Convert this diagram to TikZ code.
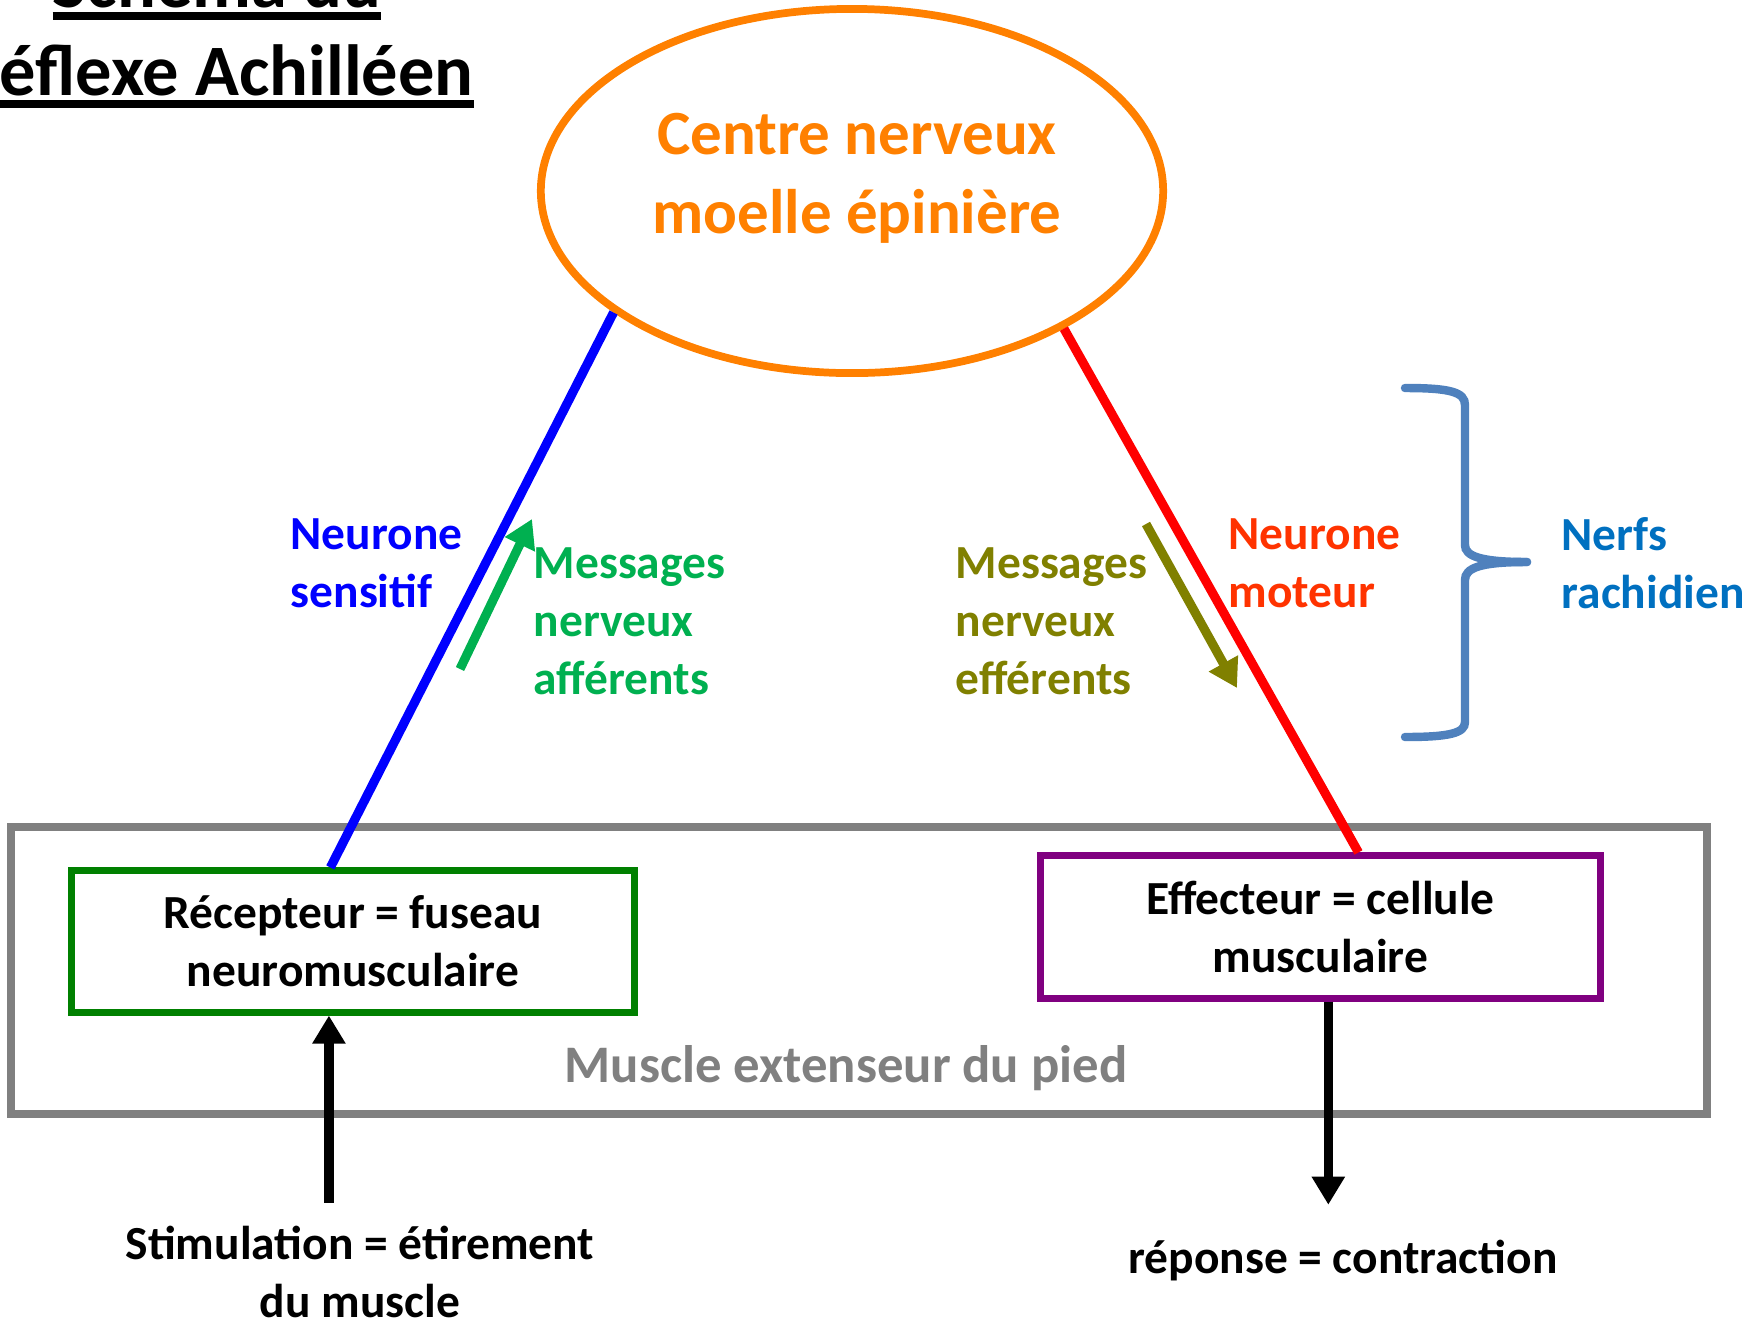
\documentclass[tikz,border=0pt]{standalone}
\usepackage{fontspec}
\setmainfont{Carlito}
\usepackage{tikz}
\usetikzlibrary{positioning}
\usetikzlibrary{shapes.geometric}
\usetikzlibrary{arrows.meta}
\usepackage{xcolor}

\definecolor{cnorange}{HTML}{FF8000}
\definecolor{sensblue}{HTML}{0000FF}
\definecolor{motred}{HTML}{FF0000}
\definecolor{mottxt}{HTML}{FF3300}
\definecolor{affgreen}{HTML}{00B050}
\definecolor{effolive}{HTML}{808000}
\definecolor{recgreen}{HTML}{008000}
\definecolor{effpurple}{HTML}{800080}
\definecolor{musgray}{HTML}{808080}
\definecolor{bracecol}{HTML}{4F81BD}
\definecolor{nerfblue}{HTML}{0070C0}

\newcommand{\ttlul}[1]{\setbox0=\hbox{#1}\rlap{\rule[-3.6pt]{\wd0}{2.2pt}}\box0}

\begin{document}
\begin{tikzpicture}[x=0.01cm, y=-0.01cm,
    txt/.style={inner sep=0pt, align=left, font=\bfseries\fontsize{13.5}{16.5}\selectfont},
    ctxt/.style={txt, align=center},
    boxnode/.style={draw, line width=2pt, rectangle, inner sep=0pt, align=center,
        font=\bfseries\fontsize{13.5}{16.5}\selectfont},
    nerve/.style={line width=2.6pt},
    blkarrow/.style={line width=2.6pt, -{Triangle[length=8pt, width=9pt]}},
    msgarrow/.style={line width=2.6pt, -{Triangle[length=8pt, width=9pt]}}]
    \useasboundingbox (0,0) rectangle (1762,1320);

    % Titre
    \node[anchor=base, font=\bfseries\fontsize{20.6}{25}\selectfont] (ttla) at (217,7) {\ttlul{Schéma du}};
    \node[anchor=base, font=\bfseries\fontsize{20.6}{25}\selectfont] (ttlb) at (217,95) {\ttlul{Réflexe Achilléen}};

    % Centre nerveux
    \node[draw=cnorange, line width=2.2pt, ellipse, minimum width=6.22cm, minimum height=3.64cm,
        inner sep=0pt] (cn) at (852,191) {};
    \node[ctxt, text=cnorange, font=\bfseries\fontsize{17.9}{22.5}\selectfont] (cnlbl) at (857,178)
        {Centre nerveux\\moelle épinière};

    % Muscle
    \draw[musgray, line width=2pt] (11,827) rectangle (1707,1114);
    \node[txt, text=musgray, font=\bfseries\fontsize{15}{18}\selectfont] (muslbl) at (846,1068)
        {Muscle extenseur du pied};

    % Recepteur et effecteur
    \node[boxnode, draw=recgreen, minimum width=5.62cm, minimum height=1.41cm] (rec) at (353,941.5)
        {Récepteur = fuseau\\neuromusculaire};
    \node[boxnode, draw=effpurple, minimum width=5.59cm, minimum height=1.42cm] (eff) at (1320.5,927)
        {Effecteur = cellule\\musculaire};

    % Neurones
    \draw[nerve, sensblue] (cn.207.2) -- (rec.107);
    \draw[nerve, motred] (cn.-33.5) -- (eff.63);
    \node[txt, text=sensblue, anchor=west] (sens) at (290,563) {Neurone\\sensitif};
    \node[txt, text=mottxt, anchor=west] (mot) at (1228,563) {Neurone\\moteur};

    % Messages nerveux
    \coordinate (affa) at (460,669);
    \coordinate (affb) at (532,519);
    \draw[msgarrow, affgreen] (affa) -- (affb);
    \node[txt, text=affgreen, anchor=west] (aff) at (533,621) {Messages\\nerveux\\afférents};
    \coordinate (effa) at (1146,524);
    \coordinate (effb) at (1237,688);
    \draw[msgarrow, effolive] (effa) -- (effb);
    \node[txt, text=effolive, anchor=west] (effmsg) at (955,621) {Messages\\nerveux\\efférents};

    % Nerfs rachidiens
    \draw[bracecol, line width=2.4pt, line cap=round]
        (1405,388) .. controls (1450,388) and (1465,392) .. (1465,405) -- (1465,545)
        .. controls (1465,556) and (1480,562) .. (1527,562);
    \draw[bracecol, line width=2.4pt, line cap=round]
        (1527,562) .. controls (1480,562) and (1465,568) .. (1465,580) -- (1465,722)
        .. controls (1465,733) and (1450,737) .. (1405,737);
    \node[txt, text=nerfblue, anchor=west] (nerf) at (1561,563) {Nerfs\\rachidien};

    % Stimulation et reponse
    \node[ctxt] (stim) at (360,1272) {Stimulation = étirement\\du muscle};
    \node[ctxt] (rep) at (1343,1261) {réponse = contraction};
    \draw[blkarrow, shorten <=6.5pt] (stim.north -| rec.252) -- (rec.252);
    \draw[blkarrow, shorten >=10pt] (eff.276) -- (eff.276 |- rep.north);
\end{tikzpicture}
\end{document}
